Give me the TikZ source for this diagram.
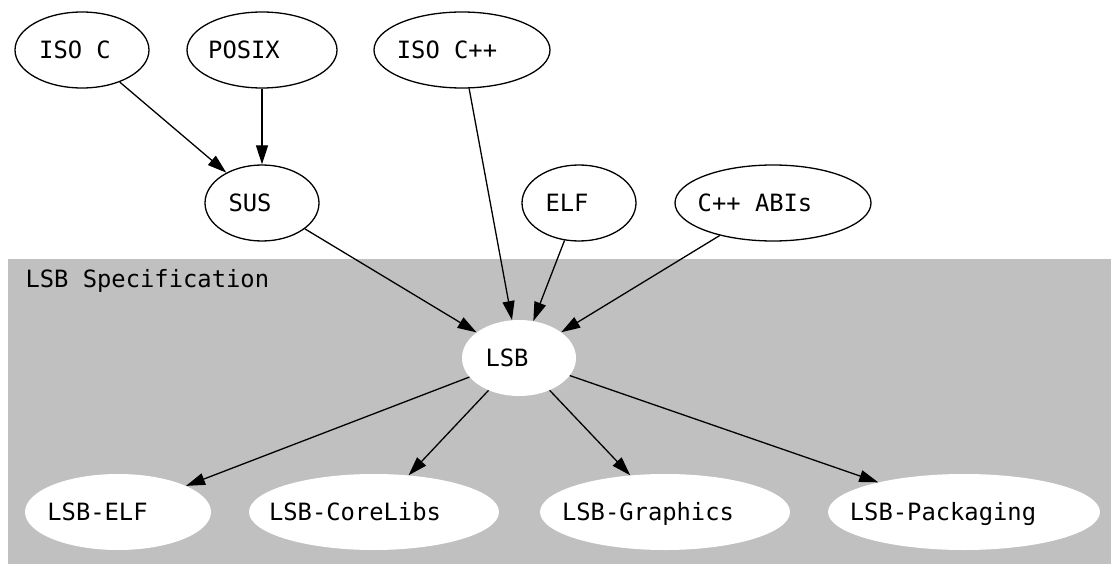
\documentclass[tikz,border=0pt]{standalone}
\usepackage{fontspec}
\newfontfamily\gvmono{DejaVu Sans Mono}
\usetikzlibrary{shapes.geometric,arrows.meta}
\definecolor{gvgray}{RGB}{192,192,192}
\newcommand{\nlab}[2]{\makebox[0pt][c]{#2\hspace*{#1pt}}}
\begin{document}
\begin{tikzpicture}[x=1pt,y=-1pt,
  every node/.style={font=\gvmono\fontsize{23.8}{28}\selectfont},
  gv/.style={ellipse, inner sep=0pt, minimum height=76pt, text height=17.4pt, text depth=0pt},
  outer/.style={gv, draw=black, line width=1.3pt, fill=white},
  inner/.style={gv, fill=white},
  edge/.style={-{Triangle[length=19pt,width=12pt]}, line width=1.3pt, draw=black}]
\useasboundingbox (0,0) rectangle (1111,564);
\fill[gvgray] (8,259) rectangle (1111,564);
\node[anchor=base west] (cluster) at (22,287) {LSB Specification};

\node[outer, minimum width=134pt] (isoc)   at (82,50)  {\nlab{14}{ISO C}};
\node[outer, minimum width=150pt] (posix)  at (262,50) {\nlab{36}{POSIX}};
\node[outer, minimum width=176pt] (isocpp) at (462,50) {\nlab{30}{ISO C++}};
\node[outer, minimum width=114pt] (sus)    at (262,203) {\nlab{24}{SUS}};
\node[outer, minimum width=114pt] (elf)    at (579,203) {\nlab{24}{ELF}};
\node[outer, minimum width=196pt] (cppabi) at (773,203) {\nlab{36}{C++ ABIs}};

\node[inner, minimum width=114pt] (lsb)       at (519,358) {\nlab{24}{LSB}};
\node[inner, minimum width=186pt] (lsbelf)    at (118,512) {\nlab{41}{LSB-ELF}};
\node[inner, minimum width=250pt] (corelibs)  at (374,512) {\nlab{38}{LSB-CoreLibs}};
\node[inner, minimum width=250pt] (graphics)  at (665,512) {\nlab{34}{LSB-Graphics}};
\node[inner, minimum width=272pt] (packaging) at (964,512) {\nlab{42}{LSB-Packaging}};

\draw[edge] (isoc) -- (sus);
\draw[edge] (posix) -- (sus);
\draw[edge] (sus) -- (lsb);
\draw[edge] (isocpp) -- (lsb);
\draw[edge] (elf) -- (lsb);
\draw[edge] (cppabi) -- (lsb);
\draw[edge] (lsb) -- (lsbelf);
\draw[edge] (lsb) -- (corelibs);
\draw[edge] (lsb) -- (graphics);
\draw[edge] (lsb) -- (packaging);
\end{tikzpicture}
\end{document}
